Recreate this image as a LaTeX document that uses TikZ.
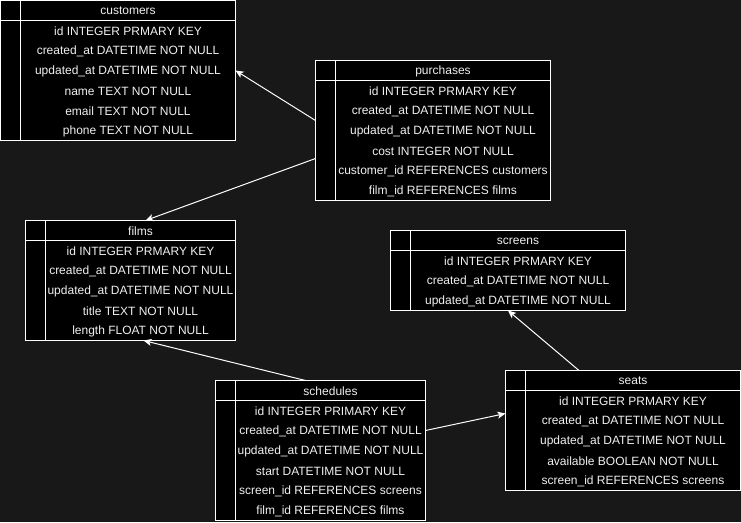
\documentclass[tikz,border=0pt]{standalone}
\usepackage{fontspec}
\setmainfont{Liberation Sans}
\usetikzlibrary{arrows.meta,calc}
\definecolor{bg}{RGB}{24,24,24}
\definecolor{txt}{RGB}{240,240,240}
\tikzset{
  tbl/.style={draw=white, fill=black, line width=1pt, rectangle, inner sep=0pt, outer sep=0pt, anchor=north west},
  rowtxt/.style={text=txt, font=\fontsize{12}{14}\selectfont, inner sep=0pt, anchor=center},
  sepline/.style={draw=white, line width=1pt},
  link/.style={draw=white, line width=1pt, -{Stealth[length=8pt,width=7pt,inset=2pt]}}
}
\newcommand\dbtable[7]{%
  \node[tbl, minimum width=#4pt, minimum height={(#5+1)*20pt}] (#1) at (#2,#3) {};
  \draw[sepline] ($(#1.north west)+(0,20)$) -- ($(#1.north east)+(0,20)$);
  \draw[sepline] ($(#1.north west)+(20,0)$) -- ($(#1.south west)+(20,0)$);
  \node[rowtxt] (#1-h) at ($(#1.north west)+({20+(#4-20)/2},10.5)$) {#6};
  \foreach \r [count=\i] in {#7} {
    \node[rowtxt] (#1-\i) at ($(#1.north west)+({20+(#4-20)/2},{10.5+20*\i})$) {\r};
  }
}
\begin{document}
\begin{tikzpicture}[x=1pt,y=-1pt]
\fill[bg] (0,0) rectangle (741,522);
\useasboundingbox (0,0) rectangle (741,522);

\dbtable{cust}{0.5}{0.5}{235}{6}{customers}{id INTEGER PRMARY KEY, created\_at DATETIME NOT NULL, updated\_at DATETIME NOT NULL, name TEXT NOT NULL, email TEXT NOT NULL, phone TEXT NOT NULL}
\dbtable{purch}{315.5}{60.5}{235}{6}{purchases}{id INTEGER PRMARY KEY, created\_at DATETIME NOT NULL, updated\_at DATETIME NOT NULL, cost INTEGER NOT NULL, customer\_id REFERENCES customers, film\_id REFERENCES films}
\dbtable{films}{25.5}{220.5}{210}{5}{films}{id INTEGER PRMARY KEY, created\_at DATETIME NOT NULL, updated\_at DATETIME NOT NULL, title TEXT NOT NULL, length FLOAT NOT NULL}
\dbtable{screens}{390.5}{230.5}{235}{3}{screens}{id INTEGER PRMARY KEY, created\_at DATETIME NOT NULL, updated\_at DATETIME NOT NULL}
\dbtable{seats}{505.5}{370.5}{235}{5}{seats}{id INTEGER PRMARY KEY, created\_at DATETIME NOT NULL, updated\_at DATETIME NOT NULL, available BOOLEAN NOT NULL, screen\_id REFERENCES screens}
\dbtable{sched}{215.5}{380.5}{210}{6}{schedules}{id INTEGER PRIMARY KEY, created\_at DATETIME NOT NULL, updated\_at DATETIME NOT NULL, start DATETIME NOT NULL, screen\_id REFERENCES screens, film\_id REFERENCES films}

\draw[link] ([yshift=10pt]purch.west) -- (cust.east);
\draw[link] ([yshift=-28pt]purch.west) -- ([xshift=15pt]films.north);
\draw[link] ([xshift=-15pt]sched.north) -- ([xshift=13pt]films.south);
\draw[link] ([yshift=20pt]sched.east) -- ([yshift=17pt]seats.west);
\draw[link] ([xshift=-44pt]seats.north) -- (screens.south);
\end{tikzpicture}
\end{document}
